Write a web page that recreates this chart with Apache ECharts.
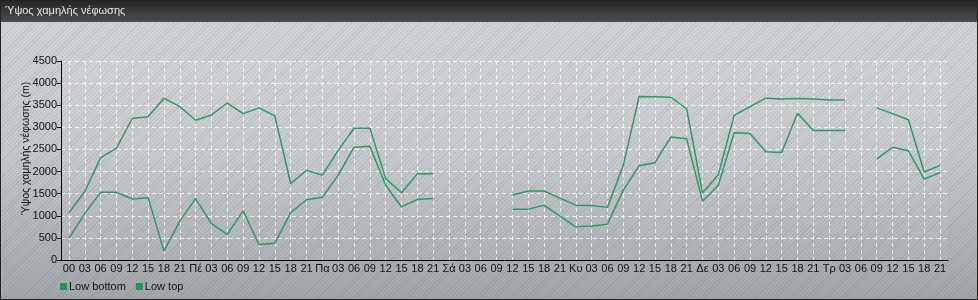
<!DOCTYPE html>
<html>
<head>
<meta charset="utf-8">
<script src="https://cdn.jsdelivr.net/npm/echarts@6/dist/echarts.min.js"></script>
<style>
html,body{margin:0;padding:0;}
#c{width:978px;height:300px;box-sizing:border-box;border:1px solid #222;
background:
 repeating-linear-gradient(135deg, rgba(0,0,0,0) 0px, rgba(0,0,0,0) 2px, rgba(0,0,0,0.07) 2px, rgba(0,0,0,0.07) 3px),
 linear-gradient(#d3d6d9, #c6c9cd 50%, #a3a6aa);}
</style>
</head>
<body>
<div id="c"></div>
<script>
const categories = [
 '00','03','06','09','12','15','18','21',
 'Πέ','03','06','09','12','15','18','21',
 'Πα','03','06','09','12','15','18','21',
 'Σά','03','06','09','12','15','18','21',
 'Κυ','03','06','09','12','15','18','21',
 'Δε','03','06','09','12','15','18','21',
 'Τρ','03','06','09','12','15','18','21'
];
const lowBottom = [
 490,1050,1530,1530,1380,1410,200,880,
 1390,820,580,1110,350,380,1070,1360,
 1420,1920,2550,2570,1690,1200,1370,1390,
 null,null,null,null,1150,1150,1240,990,
 750,770,810,1580,2130,2200,2780,2740,
 1330,1690,2880,2860,2450,2430,3320,2930,
 2930,2930,null,2280,2550,2470,1830,1980
];
const lowTop = [
 1070,1550,2310,2530,3200,3240,3660,3470,
 3160,3280,3550,3310,3440,3260,1730,2030,
 1920,2480,2980,2980,1840,1520,1950,1950,
 null,null,null,null,1470,1560,1560,1400,
 1240,1230,1190,2140,3700,3690,3680,3420,
 1520,1930,3270,3470,3660,3640,3650,3640,
 3620,3620,null,3440,3310,3170,1990,2140
];
const yTicks = {min:0, max:4500, interval:500};
const lineColor = '#2f9a68';
const FONT = 'Liberation Sans, Arial, sans-serif';
const chart = echarts.init(document.getElementById('c'), null, {renderer:'canvas'});
chart.setOption({
 animation:false,
 textStyle:{fontFamily:FONT},
 graphic:[{type:'rect', left:-1, top:-1, shape:{width:978, height:22},
   style:{fill:new echarts.graphic.LinearGradient(0,0,0,1,[{offset:0,color:'#262626'},{offset:1,color:'#4d4d4d'}])}, z:-1}],
 title:{text:'Ύψος χαμηλής νέφωσης', left:4, top:4, padding:0,
   textStyle:{color:'#e6e6e6', fontSize:11, fontWeight:'normal', fontFamily:FONT}},
 legend:{left:54, top:275, itemWidth:7, itemHeight:7, itemGap:10, icon:'rect',
   textStyle:{color:'#111', fontSize:11, padding:[0,0,0,-3]},
   data:[{name:'Low bottom', itemStyle:{color:'#1b9a4e'}},{name:'Low top', itemStyle:{color:'#1b9a4e'}}]},
 grid:{left:60, right:29, top:60, bottom:39, show:true, backgroundColor:'rgba(255,255,255,0.06)', borderWidth:0},
 xAxis:{type:'category', data:categories, boundaryGap:true,
   axisLine:{lineStyle:{color:'#000'}},
   axisTick:{alignWithLabel:true, length:4, lineStyle:{color:'#000'}},
   axisLabel:{interval:0, color:'#111', fontSize:11, margin:3},
   splitLine:{show:true, alignWithLabel:true, interval:0, lineStyle:{color:'rgba(255,255,255,0.75)', type:[4,3], width:1}}},
 yAxis:{type:'value', min:yTicks.min, max:yTicks.max, interval:yTicks.interval,
   name:'Ύψος χαμηλής νέφωσης (m)', nameLocation:'middle', nameGap:29, nameMoveOverlap:false,
   nameTextStyle:{color:'#111', fontSize:10.5, padding:[0,0,0,24]},
   axisLine:{show:true, lineStyle:{color:'#000'}},
   axisTick:{show:true, length:4, lineStyle:{color:'#000'}},
   axisLabel:{color:'#111', fontSize:11, margin:4, formatter:function(v){return String(v);}},
   splitLine:{show:true, lineStyle:{color:'rgba(255,255,255,0.75)', type:[4,3], width:1}}},
 series:[
  {name:'Low bottom', type:'line', data:lowBottom, showSymbol:false, symbol:'none', connectNulls:false,
   lineStyle:{color:lineColor, width:1.5}, itemStyle:{color:lineColor}},
  {name:'Low top', type:'line', data:lowTop, showSymbol:false, symbol:'none', connectNulls:false,
   lineStyle:{color:lineColor, width:1.5}, itemStyle:{color:lineColor}}
 ]
});
</script>
</body>
</html>
